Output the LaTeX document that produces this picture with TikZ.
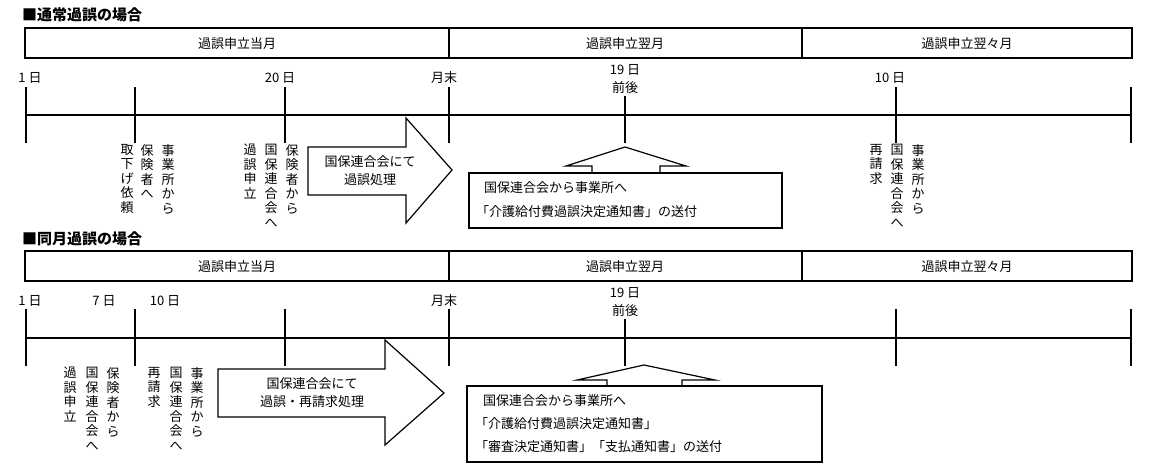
\documentclass[tikz,border=0pt]{standalone}
\usepackage{fontspec}
\newfontfamily\cjk{Noto Sans CJK JP}
\begin{document}
\begin{tikzpicture}[x=1pt,y=-1pt,
  every node/.style={font=\cjk\fontsize{13}{15}\selectfont,inner sep=0pt},
  ln/.style={line width=1.2pt},
  vt/.style={anchor=north,align=center,font=\cjk\fontsize{13}{14.5}\selectfont},
  ttl/.style={anchor=west,font=\cjk\bfseries\fontsize{15}{15}\selectfont},
  box/.style={draw,line width=1.2pt}]
\useasboundingbox (0,0) rectangle (1156,469);
% ===== top =====
\node[ttl] (t1) at (22,15) {■通常過誤の場合};
\draw[ln] (25,28) rectangle (1132,58);
\draw[ln] (449,28) -- (449,58) (802,28) -- (802,58);
\node (h1) at (237,44) {過誤申立当月};
\node (h2) at (625,44) {過誤申立翌月};
\node (h3) at (967,44) {過誤申立翌々月};
\node (d1) at (30,78) {1 日};
\node (d20) at (280,78) {20 日};
\node (dm) at (444,78) {月末};
\node (d19) at (625,70) {19 日};
\node (dz) at (625,88) {前後};
\node (d10) at (890,78) {10 日};
\draw[ln] (25,115) -- (1132,115);
\foreach \x in {26,135,285,449,896,1131} \draw[ln] (\x,87) -- (\x,143);
\draw[ln] (625,96) -- (625,143);
\node[vt] (a1) at (127,144) {取\\下\\げ\\依\\頼};
\node[vt] (a2) at (147,144) {保\\険\\者\\へ};
\node[vt] (a3) at (168,144) {事\\業\\所\\か\\ら};
\node[vt] (b1) at (250,144) {過\\誤\\申\\立};
\node[vt] (b2) at (271,144) {国\\保\\連\\合\\会\\へ};
\node[vt] (b3) at (292,144) {保\\険\\者\\か\\ら};
\node[vt] (c1) at (876,144) {再\\請\\求};
\node[vt] (c2) at (897,144) {国\\保\\連\\合\\会\\へ};
\node[vt] (c3) at (918,144) {事\\業\\所\\か\\ら};
\draw[ln,fill=white] (308,147) -- (406,147) -- (406,118) -- (452,170) -- (406,223) -- (406,195) -- (308,195) -- cycle;
\node[align=center] (ar1) at (370,171) {国保連合会にて\\[3pt]過誤処理};
\draw[box] (469,173) rectangle (782,228);
\draw[ln] (592,173) -- (592,166) -- (566,166) -- (625,147) -- (686,166) -- (660,166) -- (660,173);
\node[anchor=west] (m1) at (484,188) {国保連合会から事業所へ};
\node[anchor=west] (m2) at (476,212) {「介護給付費過誤決定通知書」の送付};
% ===== bottom =====
\node[ttl] (t2) at (22,239) {■同月過誤の場合};
\draw[ln] (25,251) rectangle (1132,281);
\draw[ln] (449,251) -- (449,281) (802,251) -- (802,281);
\node (k1) at (237,267) {過誤申立当月};
\node (k2) at (625,267) {過誤申立翌月};
\node (k3) at (967,267) {過誤申立翌々月};
\node (e1) at (30,301) {1 日};
\node (e7) at (104,301) {7 日};
\node (e10) at (165,301) {10 日};
\node (em) at (444,301) {月末};
\node (e19) at (625,293) {19 日};
\node (ez) at (625,311) {前後};
\draw[ln] (25,338) -- (1132,338);
\foreach \x in {26,135,285,449,896,1131} \draw[ln] (\x,309) -- (\x,366);
\draw[ln] (625,319) -- (625,366);
\node[vt] (f1) at (70,367) {過\\誤\\申\\立};
\node[vt] (f2) at (92,367) {国\\保\\連\\合\\会\\へ};
\node[vt] (f3) at (113,367) {保\\険\\者\\か\\ら};
\node[vt] (g1) at (154,367) {再\\請\\求};
\node[vt] (g2) at (176,367) {国\\保\\連\\合\\会\\へ};
\node[vt] (g3) at (197,367) {事\\業\\所\\か\\ら};
\draw[ln,fill=white] (218,369) -- (385,369) -- (385,340) -- (444,393) -- (385,445) -- (385,417) -- (218,417) -- cycle;
\node[align=center] (ar2) at (312,393) {国保連合会にて\\[3pt]過誤・再請求処理};
\draw[box] (467,386) rectangle (822,462);
\draw[ln] (607,386) -- (607,380) -- (577,380) -- (644,365) -- (715,380) -- (682,380) -- (682,386);
\node[anchor=west] (n1) at (483,401) {国保連合会から事業所へ};
\node[anchor=west] (n2) at (475,424) {「介護給付費過誤決定通知書」};
\node[anchor=west] (n3) at (475,447) {「審査決定通知書」「支払通知書」の送付};
\end{tikzpicture}
\end{document}
